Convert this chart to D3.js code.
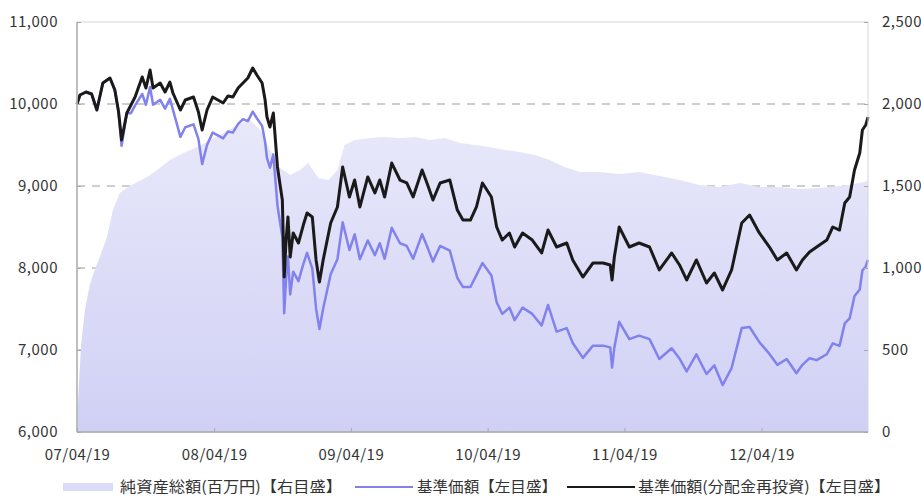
<!DOCTYPE html>
<html>
<head>
<meta charset="utf-8">
<script src="https://cdn.jsdelivr.net/npm/d3@7.9.0/dist/d3.min.js"></script>
<style>
  body { margin: 0; background: #fff; }
  text { font-family: "Noto Sans CJK JP", "Noto Sans", sans-serif; fill: #333; }
</style>
</head>
<body>
<svg id="chart" width="921" height="498"></svg>
<script>
// dates shared by both price lines
const lineDates = [
  '2007-04-19','2007-04-27','2007-05-13','2007-05-28','2007-06-11','2007-06-27','2007-07-16','2007-07-29','2007-08-08','2007-08-16',
  '2007-08-30','2007-09-10','2007-09-21','2007-10-10','2007-10-20','2007-10-31','2007-11-08','2007-11-27','2007-12-10','2007-12-23',
  '2007-12-31','2008-01-20','2008-02-02','2008-02-24','2008-03-08','2008-03-18','2008-03-31','2008-04-15','2008-04-29','2008-05-13',
  '2008-05-26','2008-06-08','2008-06-22','2008-07-05','2008-07-18','2008-07-31','2008-08-11','2008-08-25','2008-09-02','2008-09-07',
  '2008-09-15','2008-09-24','2008-10-05','2008-10-12','2008-10-18','2008-10-23','2008-10-28','2008-11-02','2008-11-08','2008-11-16',
  '2008-11-30','2008-12-13','2008-12-23','2009-01-06','2009-01-16','2009-01-25','2009-02-04','2009-02-24','2009-03-14','2009-03-28',
  '2009-04-15','2009-04-29','2009-05-13','2009-06-03','2009-06-22','2009-07-05','2009-07-18','2009-08-06','2009-08-28','2009-09-15',
  '2009-10-02','2009-10-26','2009-11-08','2009-11-24','2009-12-13','2010-01-08','2010-01-28','2010-02-12','2010-03-04','2010-03-20',
  '2010-04-05','2010-04-29','2010-05-13','2010-05-28','2010-06-16','2010-06-30','2010-07-21','2010-08-16','2010-09-10','2010-09-27',
  '2010-10-20','2010-11-16','2010-12-02','2010-12-29','2011-01-25','2011-02-21','2011-03-12','2011-03-17','2011-03-23','2011-04-05',
  '2011-05-02','2011-05-28','2011-06-25','2011-07-21','2011-08-23','2011-09-13','2011-10-02','2011-10-28','2011-11-24','2011-12-15',
  '2012-01-06','2012-01-30','2012-02-26','2012-03-18','2012-04-13','2012-05-10','2012-05-31','2012-06-25','2012-07-21','2012-08-06',
  '2012-08-25','2012-09-13','2012-10-10','2012-10-26','2012-11-13','2012-11-27','2012-12-10','2012-12-23','2013-01-06','2013-01-13',
  '2013-01-22','2013-01-28'
];

// 基準価額(分配金再投資)
const navReinvested = [
  10000,10110,10146,10122,9927,10256,10317,10171,9902,9561,
  9890,9988,10085,10329,10195,10415,10195,10256,10146,10268,
  10134,9927,10049,10085,9902,9683,9927,10085,10049,10012,
  10098,10085,10195,10256,10317,10439,10354,10256,10049,9841,
  9720,9890,9232,9012,8829,7890,8341,8622,8134,8427,
  8305,8524,8671,8622,8098,7829,8098,8549,8744,9232,
  8866,9073,8744,9110,8915,9073,8866,9280,9073,9037,
  8866,9195,9037,8829,9037,9073,8707,8585,8585,8744,
  9037,8866,8500,8341,8427,8256,8427,8341,8183,8463,
  8256,8305,8098,7890,8061,8061,8037,7854,8134,8500,
  8256,8305,8256,7976,8183,8037,7854,8098,7817,7939,
  7732,7976,8549,8646,8427,8256,8098,8183,7976,8098,
  8195,8256,8341,8500,8463,8793,8866,9195,9402,9683,
  9744,9841
];

// 基準価額
const nav = [
  10000,10110,10146,10122,9927,10256,10317,10171,9902,9490,
  9890,9888,9984,10122,9991,10207,9991,10051,9943,10063,
  9931,9599,9717,9752,9575,9267,9500,9651,9617,9581,
  9664,9651,9757,9815,9791,9907,9826,9733,9537,9339,
  9224,9386,8761,8552,8379,7448,7874,8139,7678,7955,
  7840,8047,8185,7993,7507,7257,7507,7925,8106,8558,
  8219,8411,8106,8336,8157,8302,8112,8491,8302,8269,
  8112,8413,8269,8079,8269,8211,7880,7769,7769,7913,
  8061,7908,7582,7440,7517,7364,7517,7440,7299,7549,
  7224,7267,7086,6904,7053,7053,7032,6786,7028,7344,
  7133,7176,7133,6891,7021,6896,6739,6948,6707,6812,
  6572,6780,7267,7280,7096,6952,6819,6890,6716,6819,
  6900,6877,6948,7081,7050,7325,7385,7659,7738,7969,
  8019,8099
];

// 純資産総額(百万円)
const assetDates = [
  '2007-04-19','2007-04-24','2007-04-30','2007-05-10','2007-05-23','2007-06-05','2007-06-19','2007-07-08','2007-07-24','2007-08-11',
  '2007-09-02','2007-09-27','2007-10-23','2007-11-19','2007-12-23','2008-01-28','2008-03-05','2008-04-08','2008-05-13','2008-06-19',
  '2008-07-24','2008-08-20','2008-09-15','2008-10-12','2008-11-08','2008-12-05','2008-12-26','2009-01-22','2009-02-18','2009-03-14',
  '2009-04-02','2009-04-29','2009-06-08','2009-07-18','2009-08-28','2009-10-07','2009-11-16','2009-12-26','2010-02-04','2010-03-17',
  '2010-04-24','2010-06-03','2010-07-13','2010-08-23','2010-10-02','2010-11-10','2010-12-21','2011-02-12','2011-04-05','2011-05-28',
  '2011-07-21','2011-09-13','2011-11-05','2011-12-29','2012-02-21','2012-04-13','2012-06-05','2012-07-29','2012-09-21','2012-11-13',
  '2012-12-23','2013-01-28'
];
const netAssets = [
  30,287,530,744,896,988,1067,1189,1354,1457,
  1494,1525,1555,1598,1659,1701,1738,1781,1823,1872,
  1903,1842,1720,1610,1567,1598,1640,1549,1537,1598,
  1750,1781,1793,1799,1793,1799,1781,1793,1762,1750,
  1738,1720,1708,1689,1659,1616,1586,1586,1573,1586,
  1561,1537,1506,1494,1518,1494,1494,1482,1488,1500,
  1512,1531
];

const leftTicks = [6000, 7000, 8000, 9000, 10000, 11000];
const rightTicks = [0, 500, 1000, 1500, 2000, 2500];
const xTicks = ['2007-04-19','2008-04-19','2009-04-19','2010-04-19','2011-04-19','2012-04-19'];
const legendLabels = ['純資産総額(百万円)【右目盛】', '基準価額【左目盛】', '基準価額(分配金再投資)【左目盛】'];

const parse = d3.timeParse('%Y-%m-%d');
const svg = d3.select('#chart');
const plotLeft = 77, plotRight = 868, plotTop = 22, plotBottom = 432;

const x = d3.scaleTime()
  .domain([parse('2007-04-19'), parse('2013-01-28')])
  .range([plotLeft, plotRight]);
const yL = d3.scaleLinear().domain([6000, 11000]).range([plotBottom, plotTop]);
const yR = d3.scaleLinear().domain([0, 2500]).range([plotBottom, plotTop]);

const grad = svg.append('defs').append('linearGradient')
  .attr('id', 'areaFill')
  .attr('gradientUnits', 'userSpaceOnUse')
  .attr('x1', 0).attr('y1', plotTop).attr('x2', 0).attr('y2', plotBottom);
grad.append('stop').attr('offset', '0%').attr('stop-color', '#f0f0fc');
grad.append('stop').attr('offset', '100%').attr('stop-color', '#d0d0f5');

// dashed grid
svg.append('g')
  .selectAll('line')
  .data(leftTicks.slice(1, -1))
  .join('line')
  .attr('x1', plotLeft).attr('x2', plotRight)
  .attr('y1', d => yL(d)).attr('y2', d => yL(d))
  .attr('stroke', '#bdbdbd')
  .attr('stroke-width', 1.5)
  .attr('stroke-dasharray', '8,7');

const assetData = assetDates.map((d, i) => ({ date: parse(d), value: netAssets[i] }));
svg.append('path')
  .datum(assetData)
  .attr('fill', 'url(#areaFill)')
  .attr('d', d3.area().x(d => x(d.date)).y0(plotBottom).y1(d => yR(d.value)));

const lineData = lineDates.map((d, i) => ({ date: parse(d), nav: nav[i], re: navReinvested[i] }));

svg.append('path')
  .datum(lineData)
  .attr('fill', 'none')
  .attr('stroke', '#8282ee')
  .attr('stroke-width', 2.5)
  .attr('stroke-linejoin', 'round')
  .attr('d', d3.line().x(d => x(d.date)).y(d => yL(d.nav)));

svg.append('path')
  .datum(lineData)
  .attr('fill', 'none')
  .attr('stroke', '#1a1a1a')
  .attr('stroke-width', 3)
  .attr('stroke-linejoin', 'round')
  .attr('d', d3.line().x(d => x(d.date)).y(d => yL(d.re)));

// frame
svg.append('rect')
  .attr('x', plotLeft).attr('y', plotTop)
  .attr('width', plotRight - plotLeft).attr('height', plotBottom - plotTop)
  .attr('fill', 'none').attr('stroke', '#d6d6d6');
svg.append('line').attr('x1', plotLeft).attr('x2', plotLeft).attr('y1', plotTop).attr('y2', plotBottom)
  .attr('stroke', '#b0b0b0').attr('stroke-width', 1.5);
svg.append('line').attr('x1', plotLeft).attr('x2', plotRight).attr('y1', plotBottom).attr('y2', plotBottom)
  .attr('stroke', '#a8a8a8').attr('stroke-width', 1.5);

// axes
const fmt = d3.format(',');
const leftAxis = svg.append('g')
  .attr('transform', `translate(${plotLeft},0)`)
  .call(d3.axisLeft(yL).tickValues(leftTicks).tickFormat(fmt).tickSize(-4).tickPadding(19));
const rightAxis = svg.append('g')
  .attr('transform', `translate(${plotRight},0)`)
  .call(d3.axisRight(yR).tickValues(rightTicks).tickFormat(fmt).tickSize(-4).tickPadding(14));
const bottomAxis = svg.append('g')
  .attr('transform', `translate(0,${plotBottom})`)
  .call(d3.axisBottom(x).tickValues(xTicks.map(parse)).tickFormat(d3.timeFormat('%y/%m/%d')).tickSize(-4).tickPadding(17));

[leftAxis, rightAxis, bottomAxis].forEach(g => {
  g.select('.domain').remove();
  g.selectAll('.tick line').attr('stroke', '#aaa');
  g.selectAll('text').attr('font-size', 15).attr('letter-spacing', '0.5px').attr('fill', '#333');
});

// legend
const legendY = 487;
const legend = svg.append('g');
legend.append('rect')
  .attr('x', 63).attr('y', legendY - 4).attr('width', 50).attr('height', 8)
  .attr('fill', '#dcdcf8');
legend.append('line')
  .attr('x1', 355).attr('x2', 413).attr('y1', legendY).attr('y2', legendY)
  .attr('stroke', '#8282ee').attr('stroke-width', 2);
legend.append('line')
  .attr('x1', 567).attr('x2', 635).attr('y1', legendY).attr('y2', legendY)
  .attr('stroke', '#1a1a1a').attr('stroke-width', 2);
const legendX = [120, 417, 638];
const legendW = [222, 140, 252];
legendLabels.forEach((label, i) => {
  legend.append('text')
    .attr('x', legendX[i]).attr('y', legendY)
    .attr('dy', '0.35em')
    .attr('font-size', 15)
    .attr('textLength', legendW[i])
    .attr('lengthAdjust', 'spacingAndGlyphs')
    .text(label);
});
</script>
</body>
</html>
